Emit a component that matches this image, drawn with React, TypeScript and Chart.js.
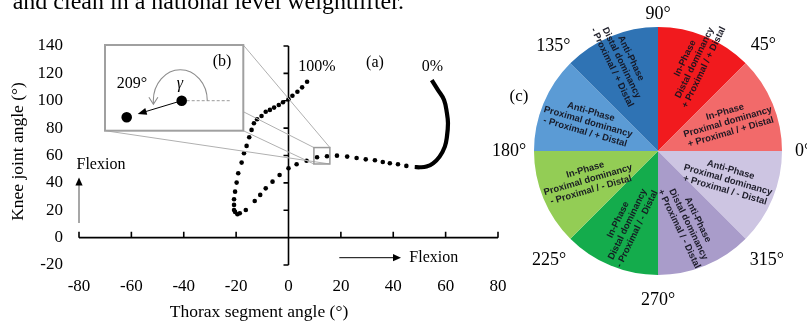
import { useEffect, useRef } from "react";
import { Chart, registerables } from "chart.js";

Chart.register(...registerables);

// Thorax segment angle (x) vs knee joint angle (y), degrees.
// Start of the lift (0%): densely sampled stretch drawn as a solid trace.
const startThorax = [54.7, 57.1, 59.4, 60.5, 60.9, 60.5, 59.7, 57.7, 55.2, 52.7, 50.1, 48.2];
const startKnee = [115.1, 107.8, 100.6, 90.9, 83.6, 73.8, 66.5, 59.2, 54.3, 51.9, 51.4, 51.6];

// Remainder of the lift up to 100%.
const thoraxAngle = [
  45, 41.8, 38.7, 36, 33, 29.5, 26, 22.4, 18.5, 14.7,
  10.9, 6.9, 3.1, 0, -3.4, -6.1, -8.7, -10.8, -12.9, -16.3,
  -18.6, -19.5, -20.4, -20.8, -20.8, -20.8, -20.4, -19.8, -19.2, -17.9,
  -17, -16, -15, -14.1, -13.2, -12, -10.3, -8.7, -7.1, -5.5,
  -3.7, -2.1, 0, 1.5, 3.4, 5.2, 7.1,
];
const kneeAngle = [
  52.4, 53.6, 54.3, 55.3, 56.5, 57.2, 58.2, 59.2, 59.9, 59.5,
  58.7, 56.2, 53.6, 50.7, 45.8, 40.9, 36, 31.2, 26.8, 20.2,
  17.8, 17.1, 18.8, 20.2, 23.9, 28, 33.6, 40.2, 47, 54.8,
  61.6, 67, 73.3, 78.7, 83.6, 86.5, 88.9, 92, 93.3, 95,
  96.9, 98.9, 101.1, 103.7, 106.6, 109.8, 113.9,
];

// Region shown enlarged in panel (b)
const zoomThorax = [9.7, 15.8];
const zoomKnee = [53.8, 65.8];

const thoraxRange = [-80, 80];
const kneeRange = [-20, 140];
const tickStep = 20;

// Coupling-angle sectors, counter-clockwise from 0°
const sectorSpan = [45, 45, 45, 45, 45, 45, 45, 45];
const sectorCoupling = ["In-Phase", "In-Phase", "Anti-Phase", "Anti-Phase", "In-Phase", "In-Phase", "Anti-Phase", "Anti-Phase"];
const sectorDominancy = [
  "Proximal dominancy", "Distal dominancy", "Distal dominancy", "Proximal dominancy",
  "Proximal dominancy", "Distal dominancy", "Distal dominancy", "Proximal dominancy",
];
const sectorDirection = [
  "+ Proximal / + Distal", "+ Proximal / + Distal", "- Proximal / + Distal", "- Proximal / + Distal",
  "- Proximal / - Distal", "- Proximal / - Distal", "+ Proximal / - Distal", "+ Proximal / - Distal",
];
const sectorColors = ["#F26A6A", "#F11A1E", "#2F73B4", "#5B9BD5", "#93CD55", "#14AC4C", "#A99CCA", "#CDC5E2"];
const boundaryLabels = ["0°", "45°", "90°", "135°", "180°", "225°", "270°", "315°"];
const boundaryGap = [21, 25, 13, 24, 25, 30, 25, 30];

const serif = '"Liberation Serif", "Times New Roman", serif';
const sans = '"Liberation Sans", Arial, sans-serif';

function label(ctx: CanvasRenderingContext2D, s: string, x: number, y: number, font: string, align: CanvasTextAlign = "center") {
  ctx.font = font;
  ctx.fillStyle = "#000";
  ctx.textAlign = align;
  ctx.textBaseline = "middle";
  ctx.fillText(s, x, y);
}

function head(ctx: CanvasRenderingContext2D, tx: number, ty: number, ang: number, len: number, hw: number) {
  const bx = tx - len * Math.cos(ang);
  const by = ty - len * Math.sin(ang);
  ctx.beginPath();
  ctx.moveTo(tx, ty);
  ctx.lineTo(bx + hw * Math.sin(ang), by - hw * Math.cos(ang));
  ctx.lineTo(bx - hw * Math.sin(ang), by + hw * Math.cos(ang));
  ctx.closePath();
  ctx.fill();
}

const crossedAxes = {
  id: "crossedAxes",
  beforeDatasetsDraw(chart: any) {
    const { ctx, scales } = chart;
    const x = scales.x;
    const y = scales.y;
    const x0 = x.getPixelForValue(0);
    const y0 = y.getPixelForValue(0);
    ctx.save();
    ctx.strokeStyle = "#000";
    ctx.lineWidth = 1.6;
    ctx.beginPath();
    ctx.moveTo(x0, y.getPixelForValue(y.max));
    ctx.lineTo(x0, y.getPixelForValue(y.min));
    ctx.moveTo(x.getPixelForValue(x.min), y0);
    ctx.lineTo(x.getPixelForValue(x.max), y0);
    y.ticks.forEach((t: any) => {
      const p = y.getPixelForValue(t.value);
      ctx.moveTo(x0 - 5, p);
      ctx.lineTo(x0, p);
    });
    x.ticks.forEach((t: any) => {
      const p = x.getPixelForValue(t.value);
      ctx.moveTo(p, y0 - 6);
      ctx.lineTo(p, y0);
    });
    ctx.stroke();
    ctx.restore();
  },
};

const panelNotes = {
  id: "panelNotes",
  afterDatasetsDraw(chart: any) {
    const { ctx, scales } = chart;
    const x = scales.x;
    const y = scales.y;
    ctx.save();

    // running caption line above the figure
    ctx.font = `24px ${serif}`;
    ctx.fillStyle = "#000";
    ctx.textAlign = "left";
    ctx.textBaseline = "alphabetic";
    ctx.fillText("and clean in a national level weightlifter.", 12.7, 9);

    // axis titles
    label(ctx, "Thorax segment angle (°)", 259, 312, `17.5px ${serif}`);
    ctx.save();
    ctx.translate(18.5, 151.5);
    ctx.rotate(-Math.PI / 2);
    label(ctx, "Knee joint angle (°)", 0, 0, `17.5px ${serif}`);
    ctx.restore();

    label(ctx, "(a)", 375, 62.3, `16px ${serif}`);
    label(ctx, "100%", 317, 66.7, `16px ${serif}`);
    label(ctx, "0%", 432.5, 66.7, `16px ${serif}`);

    // flexion direction arrows
    ctx.strokeStyle = "#8a8a8a";
    ctx.lineWidth = 1.5;
    ctx.beginPath();
    ctx.moveTo(79, 223);
    ctx.lineTo(79, 184);
    ctx.stroke();
    ctx.fillStyle = "#000";
    head(ctx, 79, 177.5, -Math.PI / 2, 8, 3.6);
    label(ctx, "Flexion", 76.5, 165, `16px ${serif}`, "left");

    ctx.strokeStyle = "#000";
    ctx.lineWidth = 1;
    ctx.beginPath();
    ctx.moveTo(339.3, 257.7);
    ctx.lineTo(394, 257.7);
    ctx.stroke();
    ctx.fillStyle = "#000";
    head(ctx, 401, 257.7, 0, 8, 3.6);
    label(ctx, "Flexion", 409.3, 257.5, `16px ${serif}`, "left");

    // enlarged region marker and connector lines
    const bl = x.getPixelForValue(zoomThorax[0]);
    const br = x.getPixelForValue(zoomThorax[1]);
    const bt = y.getPixelForValue(zoomKnee[1]);
    const bb = y.getPixelForValue(zoomKnee[0]);
    const ix = 105, iy = 45, iw = 138.3, ih = 85.7;

    ctx.strokeStyle = "#b0b0b0";
    ctx.lineWidth = 1;
    ctx.beginPath();
    ctx.moveTo(ix + iw, iy);
    ctx.lineTo(br, bt);
    ctx.moveTo(ix + iw, iy + 66.7);
    ctx.lineTo(bl, bt);
    ctx.moveTo(ix + iw, iy + ih);
    ctx.lineTo(bl, bb);
    ctx.moveTo(ix, iy + ih);
    ctx.lineTo(br, bb);
    ctx.stroke();

    ctx.strokeStyle = "#9a9a9a";
    ctx.lineWidth = 1.5;
    ctx.strokeRect(bl, bt, br - bl, bb - bt);

    // panel (b): coupling angle illustration
    ctx.fillStyle = "#fff";
    ctx.fillRect(ix, iy, iw, ih);
    ctx.strokeStyle = "#a0a0a0";
    ctx.lineWidth = 2;
    ctx.strokeRect(ix, iy, iw, ih);
    label(ctx, "(b)", ix + 117, iy + 16.7, `16px ${serif}`);
    label(ctx, "209°", ix + 27, iy + 38.3, `16px ${serif}`);
    ctx.save();
    ctx.font = `italic 16px ${serif}`;
    ctx.fillStyle = "#000";
    ctx.textAlign = "center";
    ctx.textBaseline = "middle";
    ctx.fillText("γ", ix + 75, iy + 38.3);
    ctx.restore();

    const p1x = ix + 76.7, p1y = iy + 55.7;
    const p2x = ix + 21.7, p2y = iy + 72.3;

    ctx.strokeStyle = "#9a9a9a";
    ctx.lineWidth = 1;
    ctx.setLineDash([3, 2]);
    ctx.beginPath();
    ctx.moveTo(p1x, p1y);
    ctx.lineTo(ix + 125, p1y);
    ctx.stroke();
    ctx.setLineDash([]);

    ctx.strokeStyle = "#8c8c8c";
    ctx.lineWidth = 1.1;
    ctx.beginPath();
    ctx.ellipse(p1x - 1.4, p1y, 27, 31, 0, 0, -Math.PI - 0.08, true);
    ctx.stroke();
    const ax = p1x - 1.4 - 27 * Math.cos(0.08);
    const ay = p1y + 31 * Math.sin(0.08) + 1;
    ctx.beginPath();
    ctx.moveTo(ax - 4.5, ay - 7);
    ctx.lineTo(ax, ay);
    ctx.lineTo(ax + 4.5, ay - 7);
    ctx.stroke();

    const ang = Math.atan2(p2y - p1y, p2x - p1x);
    const tipX = p1x + 46 * Math.cos(ang);
    const tipY = p1y + 46 * Math.sin(ang);
    ctx.strokeStyle = "#000";
    ctx.lineWidth = 1;
    ctx.beginPath();
    ctx.moveTo(p1x, p1y);
    ctx.lineTo(tipX - 6 * Math.cos(ang), tipY - 6 * Math.sin(ang));
    ctx.stroke();
    ctx.fillStyle = "#000";
    head(ctx, tipX, tipY, ang, 9, 3.5);

    ctx.beginPath();
    ctx.arc(p1x, p1y, 5.3, 0, Math.PI * 2);
    ctx.arc(p2x, p2y, 5.3, 0, Math.PI * 2);
    ctx.fill();

    ctx.restore();
  },
};

const sectorNotes = {
  id: "sectorNotes",
  afterDatasetsDraw(chart: any) {
    const { ctx } = chart;
    const arcs = chart.getDatasetMeta(0).data;
    const n = arcs.length;
    ctx.save();
    let cx = 0, cy = 0, R = 0;
    arcs.forEach((arc: any, i: number) => {
      const p = arc.getProps(["startAngle", "endAngle", "outerRadius", "x", "y"], true);
      cx = p.x; cy = p.y; R = p.outerRadius;
      const k = n - 1 - i; // counter-clockwise sector index
      const phi = (p.startAngle + p.endAngle) / 2;
      const theta = (((-phi * 180) / Math.PI) % 360 + 360) % 360;
      const steep = Math.abs(((theta + 90) % 180) - 90) > 45;
      const frac = steep ? (theta < 180 ? 0.77 : 0.64) : 0.61;
      const tx = cx + frac * R * Math.cos(phi);
      const ty = cy + frac * R * Math.sin(phi);
      let rot = ((((-theta + 90) % 180) + 180) % 180) - 90;
      rot = steep ? rot * 0.95 : rot * 0.72;
      ctx.save();
      ctx.translate(tx, ty);
      ctx.rotate((rot * Math.PI) / 180);
      ctx.font = `bold 9.4px ${sans}`;
      ctx.fillStyle = "rgba(20,20,32,0.95)";
      ctx.textAlign = "center";
      ctx.textBaseline = "middle";
      ctx.fillText(sectorCoupling[k], 0, -10.5);
      ctx.fillText(sectorDominancy[k], 0, 0);
      ctx.fillText(sectorDirection[k], 0, 10.5);
      ctx.restore();
    });

    boundaryLabels.forEach((s, k) => {
      const a = (k * 45 * Math.PI) / 180;
      const r = R + boundaryGap[k];
      label(ctx, s, cx + r * Math.cos(a), cy - r * Math.sin(a), `18px ${serif}`);
    });
    label(ctx, "(c)", 519, 97, `17px ${serif}`);
    ctx.restore();
  },
};

export default function App() {
  const scatterRef = useRef<HTMLCanvasElement>(null);
  const pieRef = useRef<HTMLCanvasElement>(null);

  useEffect(() => {
    const font = { family: serif, size: 17 };
    const scatter = new Chart(scatterRef.current as HTMLCanvasElement, {
      type: "scatter",
      data: {
        datasets: [
          {
            data: startThorax.map((v, i) => ({ x: v, y: startKnee[i] })),
            showLine: true,
            borderColor: "#000",
            borderWidth: 4.2,
            pointRadius: 0,
            tension: 0.4,
          } as any,
          {
            data: thoraxAngle.map((v, i) => ({ x: v, y: kneeAngle[i] })),
            backgroundColor: "#000",
            borderColor: "#000",
            borderWidth: 0,
            pointRadius: 2.3,
          },
        ],
      },
      options: {
        responsive: false,
        animation: false,
        events: [],
        layout: { padding: { left: 0, top: 46, right: 309, bottom: 0 } },
        plugins: { legend: { display: false }, tooltip: { enabled: false } },
        scales: {
          x: {
            type: "linear",
            min: thoraxRange[0],
            max: thoraxRange[1],
            grid: { display: false, drawTicks: false },
            border: { display: false },
            ticks: { stepSize: tickStep, padding: 11, color: "#000", font, maxRotation: 0, autoSkip: false },
            afterFit: (s: any) => { s.height = 59; },
          },
          y: {
            type: "linear",
            min: kneeRange[0],
            max: kneeRange[1],
            grid: { display: false, drawTicks: false },
            border: { display: false },
            ticks: { stepSize: tickStep, padding: 16, color: "#000", font, autoSkip: false },
            afterFit: (s: any) => { s.width = 79; },
          },
        },
      } as any,
      plugins: [crossedAxes, panelNotes],
    });

    const cw = sectorSpan.map((_, i) => sectorSpan.length - 1 - i);
    const pie = new Chart(pieRef.current as HTMLCanvasElement, {
      type: "pie",
      data: {
        labels: cw.map((k) => `${sectorCoupling[k]} ${sectorDominancy[k]}`),
        datasets: [
          {
            data: cw.map((k) => sectorSpan[k]),
            backgroundColor: cw.map((k) => sectorColors[k]),
            borderWidth: 0,
            hoverOffset: 0,
            offset: 0,
          },
        ],
      },
      options: {
        responsive: false,
        animation: false,
        events: [],
        rotation: 90,
        layout: { padding: { left: 534, right: 25, top: 27, bottom: 49 } },
        plugins: { legend: { display: false }, tooltip: { enabled: false } },
      } as any,
      plugins: [sectorNotes],
    });

    return () => {
      scatter.destroy();
      pie.destroy();
    };
  }, []);

  return (
    <div style={{ position: "fixed", left: 0, top: 0, width: 807, height: 324, background: "#fff", overflow: "hidden" }}>
      <canvas ref={scatterRef} width={807} height={324} style={{ position: "absolute", left: 0, top: 0 }} />
      <canvas ref={pieRef} width={807} height={324} style={{ position: "absolute", left: 0, top: 0 }} />
    </div>
  );
}
